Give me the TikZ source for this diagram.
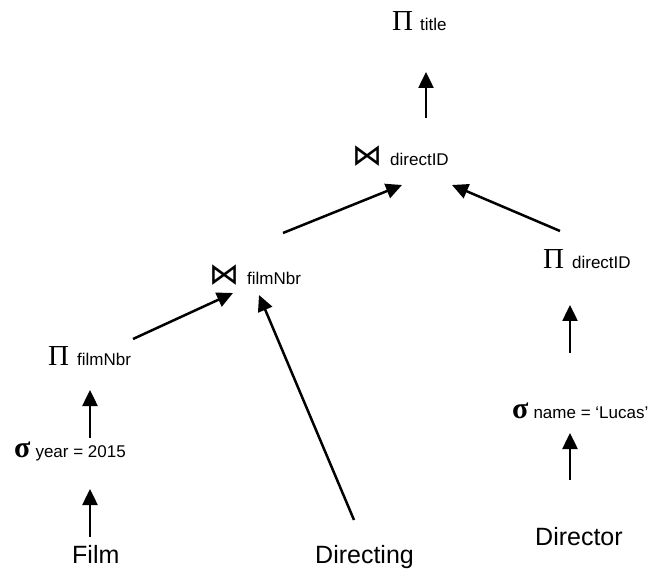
\documentclass[tikz,border=0pt]{standalone}
\usepackage[no-math]{fontspec}
\setmainfont{Liberation Sans}
\newfontfamily\greekfont{Liberation Serif}
\newfontfamily\symfont{DejaVu Sans}
\usetikzlibrary{arrows.meta}

\newcommand{\opfont}{\fontsize{17}{20}\selectfont}
\newcommand{\relfont}{\fontsize{25}{30}\selectfont}
\newcommand{\projsym}{{\greekfont\fontsize{29}{30}\selectfont Π}}
\newcommand{\selsym}{{\greekfont\bfseries\fontsize{30}{30}\selectfont σ}}
\newcommand{\joinsym}{{\symfont\fontsize{30}{30}\selectfont ⋈}}

\begin{document}
\begin{tikzpicture}[
    x=1pt, y=-1pt,
    opNode/.style={anchor=base west, inner sep=0pt},
    relNode/.style={anchor=base west, inner sep=0pt, font=\relfont},
    treeArrow/.style={-{Triangle[length=16pt,width=15pt]}, line width=2.5pt}
]
    \useasboundingbox (0,0) rectangle (648,569);

    % operators
    \node[opNode] (title)  at (392,31)  {\projsym\hspace{7pt}{\opfont title}};
    \node[opNode] (join2)  at (352,166) {\joinsym\hspace{8pt}{\opfont directID}};
    \node[opNode] (join1)  at (209,285) {\joinsym\hspace{8pt}{\opfont filmNbr}};
    \node[opNode] (projF)  at (48,365)  {\projsym\hspace{8pt}{\opfont filmNbr}};
    \node[opNode] (selY)   at (14,457)  {\selsym\hspace{5pt}{\opfont year = 2015}};
    \node[opNode] (projD)  at (543,269) {\projsym\hspace{8pt}{\opfont directID}};
    \node[opNode] (selN)   at (512,418) {\selsym\hspace{5pt}{\opfont name = ‘Lucas’}};

    % relations
    \node[relNode] (film)      at (72,563)  {Film};
    \node[relNode] (directing) at (315,563) {Directing};
    \node[relNode] (director)  at (535,545) {Director};

    % edges
    \draw[treeArrow] ([shift={(74,-48)}]join2.base west) -- ([shift={(34,41)}]title.base west);
    \draw[treeArrow] ([shift={(74,-52)}]join1.base west) -- ([shift={(50,19)}]join2.base west);
    \draw[treeArrow] ([shift={(17,-38)}]projD.base west) -- ([shift={(100,19)}]join2.base west);
    \draw[treeArrow] ([shift={(85,-26)}]projF.base west) -- ([shift={(24,8)}]join1.base west);
    \draw[treeArrow] ([shift={(39,-43)}]directing.base west) -- ([shift={(50,10)}]join1.base west);
    \draw[treeArrow] ([shift={(76,-19)}]selY.base west) -- ([shift={(42,25)}]projF.base west);
    \draw[treeArrow] ([shift={(18,-26)}]film.base west) -- ([shift={(76,32)}]selY.base west);
    \draw[treeArrow] ([shift={(58,-65)}]selN.base west) -- ([shift={(27,36)}]projD.base west);
    \draw[treeArrow] ([shift={(35,-65)}]director.base west) -- ([shift={(58,15)}]selN.base west);
\end{tikzpicture}
\end{document}
